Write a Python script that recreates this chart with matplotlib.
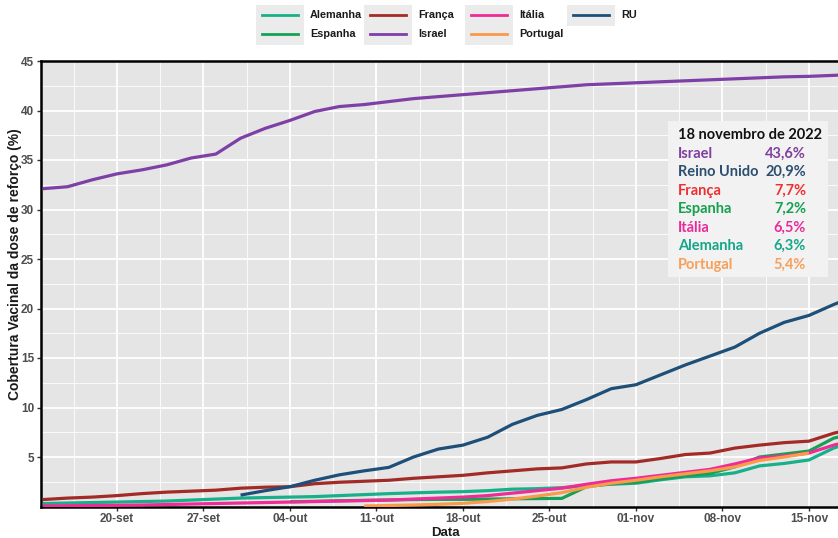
import numpy as np
import pandas as pd
import matplotlib
matplotlib.use("Agg")
import matplotlib.pyplot as plt
from matplotlib.patches import Rectangle
from matplotlib.lines import Line2D

# ---- data -------------------------------------------------------------
dates = pd.to_datetime([
    "2022-09-14", "2022-09-16", "2022-09-18", "2022-09-20", "2022-09-22",
    "2022-09-24", "2022-09-26", "2022-09-28", "2022-09-30", "2022-10-02",
    "2022-10-04", "2022-10-06", "2022-10-08", "2022-10-10", "2022-10-12",
    "2022-10-14", "2022-10-16", "2022-10-18", "2022-10-20", "2022-10-22",
    "2022-10-24", "2022-10-26", "2022-10-28", "2022-10-30", "2022-11-01",
    "2022-11-03", "2022-11-05", "2022-11-07", "2022-11-09", "2022-11-11",
    "2022-11-13", "2022-11-15", "2022-11-17", "2022-11-18",
])
nan = np.nan

alemanha = [0.30, 0.35, 0.40, 0.45, 0.50, 0.55, 0.65, 0.75, 0.85, 0.90,
            0.95, 1.00, 1.10, 1.20, 1.30, 1.38, 1.45, 1.50, 1.60, 1.75,
            1.80, 1.90, 2.10, 2.25, 2.35, 2.70, 3.00, 3.10, 3.40, 4.10,
            4.35, 4.70, 5.90, 6.30]
espanha = [nan, nan, nan, nan, nan, nan, nan, nan, nan, nan,
           0.48, 0.52, 0.58, 0.62, 0.66, 0.70, 0.72, 0.72, 0.75, 0.78,
           0.80, 0.82, 2.00, 2.30, 2.45, 2.80, 3.10, 3.35, 4.00, 5.00,
           5.30, 5.60, 6.90, 7.20]
franca = [0.70, 0.85, 0.95, 1.10, 1.30, 1.45, 1.55, 1.65, 1.85, 1.95,
          2.00, 2.30, 2.45, 2.55, 2.65, 2.85, 3.00, 3.15, 3.40, 3.60,
          3.80, 3.90, 4.30, 4.50, 4.50, 4.85, 5.25, 5.40, 5.90, 6.20,
          6.45, 6.60, 7.40, 7.70]
israel = [32.1, 32.3, 33.0, 33.6, 34.0, 34.5, 35.2, 35.6, 37.2, 38.2,
          39.0, 39.9, 40.4, 40.6, 40.9, 41.2, 41.4, 41.6, 41.8, 42.0,
          42.2, 42.4, 42.6, 42.7, 42.8, 42.9, 43.0, 43.1, 43.2, 43.3,
          43.4, 43.45, 43.55, 43.6]
italia = [0.05, 0.08, 0.10, 0.12, 0.15, 0.20, 0.25, 0.30, 0.35, 0.40,
          0.45, 0.50, 0.55, 0.60, 0.65, 0.75, 0.85, 0.95, 1.10, 1.35,
          1.60, 1.85, 2.25, 2.60, 2.85, 3.15, 3.45, 3.75, 4.30, 4.90,
          5.10, 5.40, 6.20, 6.50]
portugal = [nan, nan, nan, nan, nan, nan, nan, nan, nan, nan,
            nan, nan, nan, 0.05, 0.10, 0.15, 0.22, 0.32, 0.50, 0.75,
            1.05, 1.40, 1.95, 2.35, 2.65, 3.00, 3.30, 3.60, 4.00, 4.65,
            5.00, 5.40, nan, nan]
ru = [nan, nan, nan, nan, nan, nan, nan, nan, 1.15, 1.60,
      2.00, 2.65, 3.20, 3.60, 3.95, 5.00, 5.80, 6.20, 7.00, 8.30,
      9.20, 9.80, 10.8, 11.9, 12.3, 13.3, 14.3, 15.2, 16.1, 17.5,
      18.6, 19.3, 20.4, 20.9]

series_names = ["Alemanha", "Espanha", "França", "Israel", "Itália", "Portugal", "RU"]
series_values = [alemanha, espanha, franca, israel, italia, portugal, ru]
series_colors = ["#17b08b", "#17a055", "#a32b27", "#7e3fa6", "#ef2b96", "#fb9a4b", "#1d4f78"]

tick_dates = pd.to_datetime(["2022-09-20", "2022-09-27", "2022-10-04", "2022-10-11",
                             "2022-10-18", "2022-10-25", "2022-11-01", "2022-11-08",
                             "2022-11-15"])
tick_labels = ["20-set", "27-set", "04-out", "11-out", "18-out", "25-out",
               "01-nov", "08-nov", "15-nov"]
y_ticks = [5, 10, 15, 20, 25, 30, 35, 40, 45]

# summary box: label, value text, colour
box_title = "18 novembro de 2022"
box_labels = ["Israel", "Reino Unido", "França", "Espanha", "Itália", "Alemanha", "Portugal"]
box_values = ["43,6%", "20,9%", "7,7%", "7,2%", "6,5%", "6,3%", "5,4%"]
box_colors = ["#7f3fa0", "#2c4f70", "#ee3030", "#16a050", "#e82c9c", "#16a589", "#f7a05a"]

# ---- figure -----------------------------------------------------------
W, H = 838, 538
fig = plt.figure(figsize=(W / 100, H / 100), dpi=100)
fig.patch.set_facecolor("white")


def fx(px):
    return px / W


def fy(py):
    return 1 - py / H


ax = fig.add_axes([fx(41), fy(506.5), fx(838) - fx(41), fy(61) - fy(506.5)])
ax.set_facecolor("#e5e5e5")

for name, vals, col in zip(series_names, series_values, series_colors):
    ax.plot(dates, vals, color=col, lw=2.3, solid_capstyle="butt", zorder=3)

ax.set_xticks(tick_dates)
ax.set_xticklabels(tick_labels)
minor_x = [d - pd.Timedelta(hours=84) for d in tick_dates]
ax.set_xticks(minor_x, minor=True)
ax.set_yticks(y_ticks)
ax.set_yticks(np.arange(2.5, 45, 5), minor=True)

x0 = pd.Timestamp("2022-09-20") - pd.Timedelta(days=6.15)
x1 = pd.Timestamp("2022-11-15") + pd.Timedelta(days=2.35)
ax.set_xlim(x0, x1)
ax.set_ylim(0, 45)

ax.grid(which="major", color="white", lw=1.3, zorder=0)
ax.grid(which="minor", color="white", lw=0.6, zorder=0)
ax.set_axisbelow(True)

ax.tick_params(axis="both", which="major", length=3, width=1, color="#333333",
               labelsize=8.5, labelcolor="#4d4d4d", pad=2)
ax.tick_params(axis="both", which="minor", length=0)
for lab in ax.get_xticklabels() + ax.get_yticklabels():
    lab.set_fontweight("bold")
    lab.set_family("Liberation Sans")

for side in ["top", "left", "bottom"]:
    ax.spines[side].set_color("black")
    ax.spines[side].set_linewidth(1.8)
ax.spines["right"].set_visible(False)

ax.set_xlabel("Data", fontsize=9.5, fontweight="bold", family="Liberation Sans",
              color="#1a1a1a")
ax.xaxis.set_label_coords((445 - 41) / (838 - 41), -0.045)
ax.set_ylabel("Cobertura Vacinal da dose de reforço (%)", fontsize=10, fontweight="bold",
              family="Liberation Sans", color="#1a1a1a")
ax.yaxis.set_label_coords((22 - 41) / (838 - 41), 0.544)

# ---- summary box ------------------------------------------------------
fig.add_artist(Rectangle((fx(668), fy(277)), fx(828) - fx(668), fy(121) - fy(277),
                         transform=fig.transFigure, facecolor="#f2f2f2",
                         edgecolor="none", zorder=5))
fig.text(fx(678), fy(135), box_title, fontsize=10.5, fontweight="bold",
         family="Lato", color="#111111", va="center", ha="left", zorder=6)
for i, (lab, val, col) in enumerate(zip(box_labels, box_values, box_colors)):
    yy = 153.5 + i * 18.5
    fig.text(fx(678), fy(yy), lab, fontsize=10.5, fontweight="bold", family="Lato",
             color=col, va="center", ha="left", zorder=6)
    fig.text(fx(806), fy(yy), val, fontsize=10.5, fontweight="bold", family="Lato",
             color=col, va="center", ha="right", zorder=6)

# ---- legend (4 columns, filled column by column) ----------------------
col_x = [256, 364, 465, 567]
row_y = [15, 34]
for i, (name, col) in enumerate(zip(series_names, series_colors)):
    c, r = divmod(i, 2)
    kx = col_x[c]
    if r == 0:
        nrows = 2 if c < 3 else 1
        hgt = 40 if nrows == 2 else 21
        fig.add_artist(Rectangle((fx(kx), fy(5 + hgt)), fx(48), hgt / H,
                                 transform=fig.transFigure, facecolor="#ebebeb",
                                 edgecolor="none"))
    fig.add_artist(Line2D([fx(kx + 6), fx(kx + 42)], [fy(row_y[r])] * 2,
                          transform=fig.transFigure, color=col, lw=2.0))
    fig.text(fx(kx + 54), fy(row_y[r]), name, fontsize=7.8, fontweight="bold",
             family="Liberation Sans", color="#1a1a1a", va="center", ha="left")

fig.savefig("out.png", dpi=100)
